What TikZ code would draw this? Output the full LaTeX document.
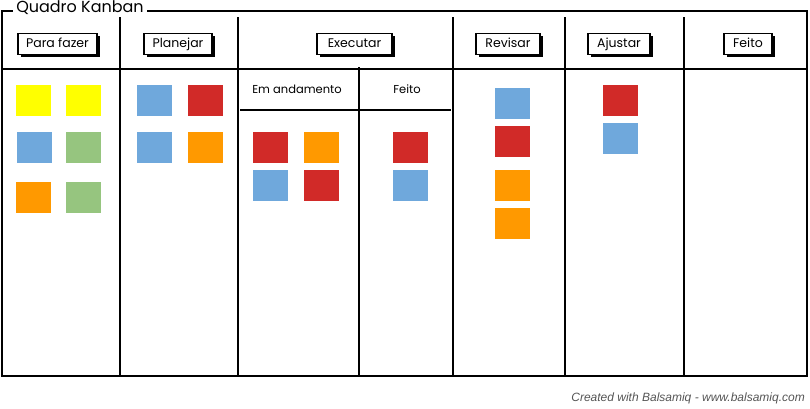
\documentclass[tikz,border=0pt]{standalone}
\usepackage{fontspec}
\setmainfont{Poppins}
\newfontfamily\footfont{Liberation Sans}
\usetikzlibrary{positioning, shadows}

\definecolor{noteyellow}{HTML}{FFFF00}
\definecolor{noteblue}{HTML}{6FA8DC}
\definecolor{notered}{HTML}{D12A28}
\definecolor{noteorange}{HTML}{FF9900}
\definecolor{notegreen}{HTML}{96C57F}
\definecolor{footgray}{HTML}{555555}

\tikzset{
    headbox/.style={draw=black, line width=1.2pt, fill=white, inner sep=0pt,
        minimum height=21pt, text height=1.55ex, text depth=0.3ex,
        font=\fontsize{12.5}{13}\selectfont,
        drop shadow={shadow xshift=2.5pt, shadow yshift=-2.5pt, fill=black, opacity=1}},
    subhead/.style={inner sep=0pt, text height=1.55ex, text depth=0.3ex,
        font=\fontsize{11.5}{12}\selectfont},
    note/.style={inner sep=0pt, minimum width=35pt, minimum height=31pt},
    boardline/.style={black, line width=1.6pt},
    thinline/.style={black, line width=1.2pt}
}

\begin{document}
\begin{tikzpicture}[x=1pt, y=-1pt]
    \useasboundingbox (0,0) rectangle (810,408);

    % border
    \draw[boardline] (2,11) rectangle (807,376);

    % title
    \node[fill=white, inner xsep=3pt, inner ysep=1pt, text height=1.55ex, text depth=0.3ex,
        font=\fontsize{16}{17}\selectfont] (title) at (80,9) {Quadro Kanban};

    % draw column lines
    \foreach \x in {120,238,453,565,684}
    {
        \draw[boardline] (\x,17) -- (\x,376);
    }

    % header line
    \draw[thinline] (2,69) -- (807,69);

    % sub columns of Executar
    \draw[boardline] (359,67) -- (359,376);
    \draw[thinline] (240,110) -- (451,110);
    \node[subhead] (doing) at (297,90) {Em andamento};
    \node[subhead] (done) at (407,90) {Feito};

    % column headers
    \foreach \name/\x/\w/\txt in {
        todo/57.5/79/Para fazer,
        plan/178/68/Planejar,
        exec/354.5/75/Executar,
        review/508/64/Revisar,
        adjust/619/62/Ajustar,
        finished/748/48/Feito}{

        \node[headbox, minimum width=\w pt] (\name) at (\x,44) {\txt};
    }

    % notes
    \foreach \name/\x/\y/\co in {
        n1/33.5/100.5/noteyellow,
        n2/83.5/100.5/noteyellow,
        n3/34.5/147.5/noteblue,
        n4/83.5/147.5/notegreen,
        n5/33.5/197.5/noteorange,
        n6/83.5/197.5/notegreen,
        n7/154.5/100.5/noteblue,
        n8/205.5/100.5/notered,
        n9/154.5/147.5/noteblue,
        n10/205.5/147.5/noteorange,
        n11/270.5/147.5/notered,
        n12/321.5/147.5/noteorange,
        n13/270.5/185.5/noteblue,
        n14/321.5/185.5/notered,
        n15/410.5/147.5/notered,
        n16/410.5/185.5/noteblue,
        n17/512.5/103.5/noteblue,
        n18/512.5/141.5/notered,
        n19/512.5/185.5/noteorange,
        n20/512.5/223.5/noteorange,
        n21/620.5/100.5/notered,
        n22/620.5/138.5/noteblue}{

        \node[note, fill=\co] (\name) at (\x,\y) {};
    }

    % footer
    \node[anchor=east, inner sep=0pt, text=footgray, font=\footfont\itshape\fontsize{12}{13}\selectfont]
        (credit) at (805,398) {Created with Balsamiq - www.balsamiq.com};
\end{tikzpicture}
\end{document}
